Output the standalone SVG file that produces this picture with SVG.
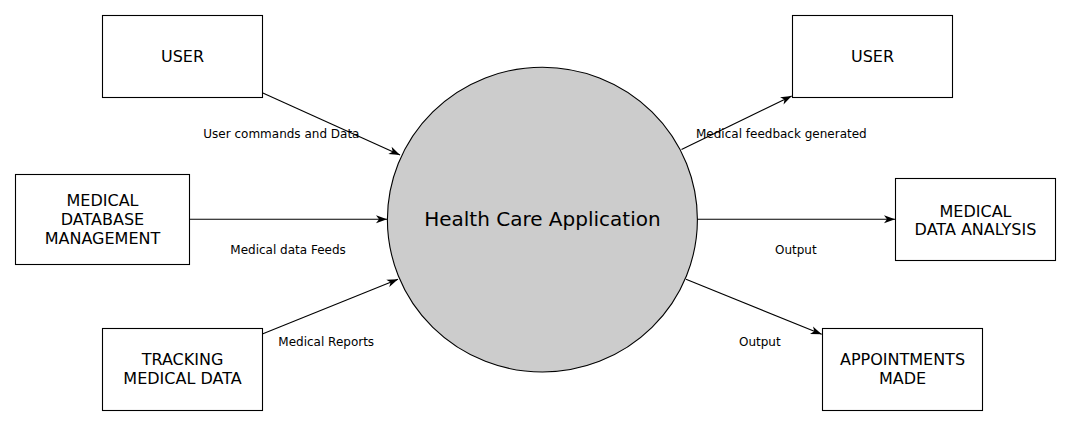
<svg xmlns="http://www.w3.org/2000/svg" width="1070" height="425" viewBox="0 0 1070 425">
<style>
.box{fill:#fff;stroke:#000;stroke-width:1.1}
.t{font-family:"DejaVu Sans",sans-serif;font-size:16px;text-anchor:middle;fill:#000}
.lbl{font-family:"DejaVu Sans",sans-serif;font-size:12px;fill:#000}
.c{stroke:#000;stroke-width:1.1;fill:none;marker-end:url(#arr)}
</style>
<defs>
<marker id="arr" markerUnits="userSpaceOnUse" viewBox="-1 -6 13 12" markerWidth="13" markerHeight="12" refX="11" refY="0" orient="auto">
<path d="M0,-4 L11,0 L0,4 L3,0 Z" fill="#000"/>
</marker>
</defs>
<rect width="1070" height="425" fill="#fff"/>
<g id="connectors">
<line class="c" x1="262.3" y1="92.7" x2="400" y2="155"/>
<line class="c" x1="189.3" y1="219.3" x2="387" y2="219.3"/>
<line class="c" x1="262.3" y1="334" x2="398" y2="279.3"/>
<line class="c" x1="681.5" y1="149.5" x2="791.7" y2="96"/>
<line class="c" x1="697.3" y1="219.3" x2="895" y2="219.3"/>
<line class="c" x1="686" y1="279.3" x2="821.7" y2="334.3"/>
<text class="lbl" x="203.3" y="137.7">User commands and Data</text>
<text class="lbl" x="230.3" y="253.5">Medical data Feeds</text>
<text class="lbl" x="278.3" y="345.5">Medical Reports</text>
<text class="lbl" x="696" y="137.7">Medical feedback generated</text>
<text class="lbl" x="775" y="253.5">Output</text>
<text class="lbl" x="739" y="345.5">Output</text>
</g>
<g id="process">
<ellipse cx="542.4" cy="219.6" rx="155" ry="152.4" fill="#cccccc" stroke="#000" stroke-width="1.1"/>
<text x="542.4" y="226" style="font-family:'DejaVu Sans',sans-serif;font-size:20px;text-anchor:middle">Health Care Application</text>
</g>
<g id="user-in">
<rect class="box" x="102.5" y="15.5" width="160" height="82"/>
<text class="t" x="182.5" y="61.5">USER</text>
</g>
<g id="med-db">
<rect class="box" x="15.5" y="174.5" width="174" height="90"/>
<text class="t" x="102.5" y="205.8">MEDICAL</text>
<text class="t" x="102.5" y="224.8">DATABASE</text>
<text class="t" x="102.5" y="243.8">MANAGEMENT</text>
</g>
<g id="tracking">
<rect class="box" x="102.5" y="328.5" width="160" height="82"/>
<text class="t" x="182.5" y="364.8">TRACKING</text>
<text class="t" x="182.5" y="383.8">MEDICAL DATA</text>
</g>
<g id="user-out">
<rect class="box" x="792.5" y="15.5" width="160" height="82"/>
<text class="t" x="872.5" y="61.5">USER</text>
</g>
<g id="analysis">
<rect class="box" x="895.5" y="178.5" width="160" height="82"/>
<text class="t" x="975.5" y="216.5">MEDICAL</text>
<text class="t" x="975.5" y="234.5">DATA ANALYSIS</text>
</g>
<g id="appointments">
<rect class="box" x="822.5" y="328.5" width="160" height="82"/>
<text class="t" x="902.5" y="364.8">APPOINTMENTS</text>
<text class="t" x="902.5" y="383.8">MADE</text>
</g>
</svg>
